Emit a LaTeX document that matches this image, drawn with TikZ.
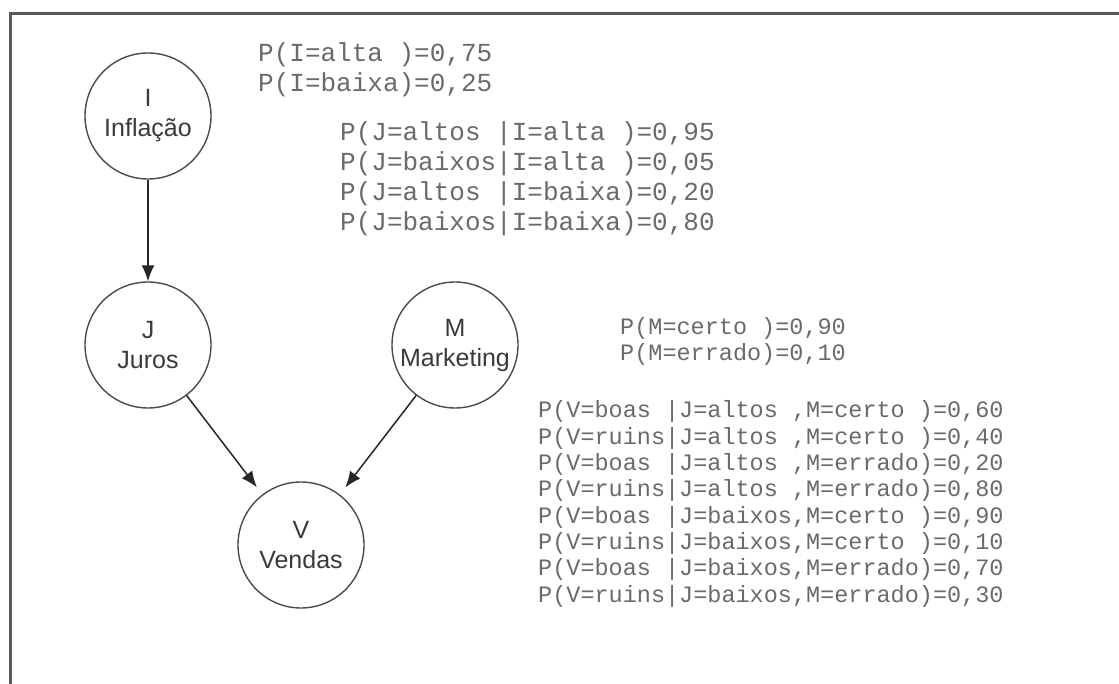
\documentclass[tikz,border=0pt]{standalone}
\usepackage{fontspec}
\setmainfont{Liberation Sans}
\newfontfamily\courfont{Liberation Mono}
\usetikzlibrary{arrows.meta}
\definecolor{framegray}{HTML}{5A5A5A}
\definecolor{circgray}{HTML}{4A4A4A}
\definecolor{labgray}{HTML}{3A3A3A}
\definecolor{probgray}{HTML}{6A6A6A}
\begin{document}
\begin{tikzpicture}[x=1pt,y=-1pt,
  var/.style={circle, draw=circgray, line width=1.4pt, minimum size=126pt, inner sep=0pt,
    align=center, text=labgray, font=\fontsize{25}{30}\selectfont},
  probtxt/.style={anchor=base west, align=left, inner sep=0pt, text=probgray},
  bigmono/.style={font=\courfont\fontsize{26}{30}\selectfont},
  smallmono/.style={font=\courfont\fontsize{23.5}{26.3}\selectfont},
  edge/.style={draw=black!85, line width=1.5pt, -{Latex[length=16pt,width=13pt]}}
]
\useasboundingbox (0,0) rectangle (1119,684);
\fill[white] (0,0) rectangle (1119,684);
\draw[framegray, line width=3pt] (1119,14) -- (10,14) -- (10,684);

\node[var] (I) at (148,116) {I\\Inflação};
\node[var] (J) at (148,345) {J\\Juros};
\node[var] (M) at (455,345) {M\\Marketing};
\node[var] (V) at (301,545) {V\\Vendas};

\draw[edge] (I) -- (J);
\draw[edge, shorten >=9pt] (J) -- (V);
\draw[edge, shorten >=9pt] (M) -- (V);

% anchor base = baseline of the last line
\node[probtxt, bigmono] (tI) at (258,92)
  {P(I=alta )=0,75\\P(I=baixa)=0,25};
\node[probtxt, bigmono] (tJ) at (340,231)
  {P(J=altos |I=alta )=0,95\\P(J=baixos|I=alta )=0,05\\P(J=altos |I=baixa)=0,20\\P(J=baixos|I=baixa)=0,80};
\node[probtxt, smallmono] (tM) at (620,361)
  {P(M=certo )=0,90\\P(M=errado)=0,10};
\node[probtxt, smallmono] (tV) at (538,602)
  {P(V=boas |J=altos ,M=certo )=0,60\\P(V=ruins|J=altos ,M=certo )=0,40\\P(V=boas |J=altos ,M=errado)=0,20\\P(V=ruins|J=altos ,M=errado)=0,80\\P(V=boas |J=baixos,M=certo )=0,90\\P(V=ruins|J=baixos,M=certo )=0,10\\P(V=boas |J=baixos,M=errado)=0,70\\P(V=ruins|J=baixos,M=errado)=0,30};
\end{tikzpicture}
\end{document}
